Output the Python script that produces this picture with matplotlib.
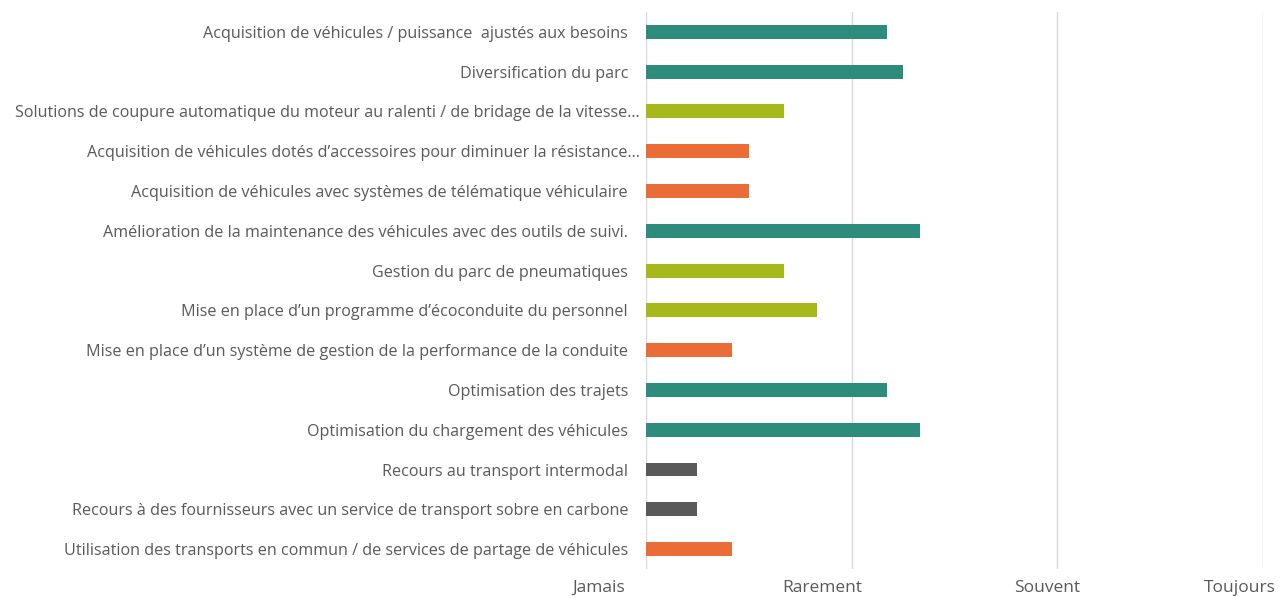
import matplotlib.pyplot as plt
from matplotlib.transforms import ScaledTranslation

# Actions, top to bottom as displayed
actions = [
    "Acquisition de véhicules / puissance  ajustés aux besoins",
    "Diversification du parc",
    "Solutions de coupure automatique du moteur au ralenti / de bridage de la vitesse…",
    "Acquisition de véhicules dotés d’accessoires pour diminuer la résistance…",
    "Acquisition de véhicules avec systèmes de télématique véhiculaire",
    "Amélioration de la maintenance des véhicules avec des outils de suivi.",
    "Gestion du parc de pneumatiques",
    "Mise en place d’un programme d’écoconduite du personnel",
    "Mise en place d’un système de gestion de la performance de la conduite",
    "Optimisation des trajets",
    "Optimisation du chargement des véhicules",
    "Recours au transport intermodal",
    "Recours à des fournisseurs avec un service de transport sobre en carbone",
    "Utilisation des transports en commun / de services de partage de véhicules",
]
scores = [1.17, 1.25, 0.67, 0.50, 0.50, 1.33, 0.67, 0.83, 0.42, 1.17, 1.33, 0.25, 0.25, 0.42]
groups = ["high", "high", "mid", "low", "low", "high", "mid", "mid", "low",
          "high", "high", "none", "none", "low"]
freq_labels = ["Jamais", "Rarement", "Souvent", "Toujours"]

palette = {"high": "#2D8C7B", "mid": "#A6B91A", "low": "#EA6C37", "none": "#595959"}

plt.rcParams['font.family'] = ['Open Sans', 'DejaVu Sans']

fig = plt.figure(figsize=(12.88, 5.98), dpi=100)
ax = fig.add_axes([0.5016, 0.0485, 0.479, 0.9315])

ypos = list(range(len(actions)))
ax.barh(ypos, scores, height=0.35, color=[palette[g] for g in groups], zorder=3)

ax.set_ylim(len(actions) - 0.5, -0.5)
ax.set_xlim(0, 3)
ax.set_yticks(ypos)
ax.set_yticklabels(actions, fontsize=11.6, color="#595959")
ax.set_xticks(range(len(freq_labels)))
ax.set_xticklabels(freq_labels, fontsize=12.5, color="#595959")
ax.tick_params(axis="y", length=0, pad=13)
ax.tick_params(axis="x", length=0, pad=8)

# truncated names run a little closer to the axis, as in Excel
for lbl in ax.get_yticklabels():
    if lbl.get_text().endswith("…"):
        lbl.set_transform(lbl.get_transform() + ScaledTranslation(0.12, 0, fig.dpi_scale_trans))

# Excel places the category names slightly left of their gridlines
shifts = [-47, -29, -10, -23]
for lbl, dx in zip(ax.get_xticklabels(), shifts):
    lbl.set_transform(lbl.get_transform() + ScaledTranslation(dx / 100, 0, fig.dpi_scale_trans))

ax.grid(axis="x", color="#D9D9D9", linewidth=1, zorder=0)
for s in ["top", "right", "bottom", "left"]:
    ax.spines[s].set_visible(False)

fig.savefig("out.png", dpi=100)
